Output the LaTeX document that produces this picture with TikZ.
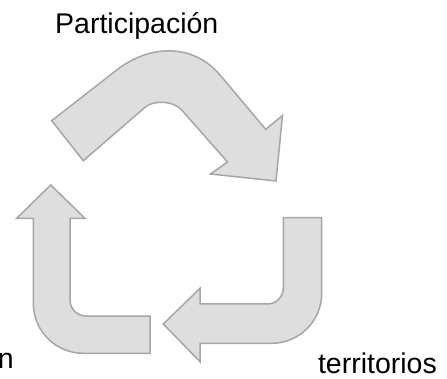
\documentclass[tikz,border=0pt]{standalone}
\usepackage{fontspec}
\setmainfont{Liberation Sans}
\definecolor{arrowfill}{HTML}{DEDEDE}
\definecolor{arrowline}{HTML}{A6A6A6}
\begin{document}
\begin{tikzpicture}[x=1pt,y=-1pt,
  cyclearrow/.style={fill=arrowfill,draw=arrowline,line width=1.5pt,line join=miter},
  lbl/.style={inner sep=0pt,font=\fontsize{28.5}{34}\selectfont,text=black}]
\useasboundingbox (0,0) rectangle (447,379);
% top curved arrow
\path[cyclearrow] (51.7,120.7) -- (116.7,70)
  .. controls (149.7,44.2) and (193,43.1) .. (220,75)
  -- (265.7,129.3) -- (282.5,115.5) -- (276,181) -- (210.5,174) -- (227.5,162)
  -- (181.7,110) .. controls (173.8,101) and (154.1,99.5) .. (145,107.3)
  -- (83.3,160.7) -- cycle;
% left upward arrow
\path[cyclearrow] (50.7,185) -- (85,218.3) -- (70,218.3) -- (70,300)
  arc[start angle=180,end angle=90,radius=16] -- (150,316) -- (150,353.3)
  -- (83.3,353.3) arc[start angle=90,end angle=180,radius=50]
  -- (33.3,218.3) -- (16.7,218.3) -- cycle;
% right leftward arrow
\path[cyclearrow] (283.3,217.7) -- (321.7,217.7) -- (321.7,293.3)
  arc[start angle=0,end angle=90,radius=50] -- (200,343.3) -- (200,361.7)
  -- (163.3,324) -- (200,288.3) -- (200,304) -- (267.3,304)
  arc[start angle=90,end angle=0,radius=16] -- cycle;
% labels
\node[lbl,anchor=base west] (part) at (55,33.3) {Participación};
\node[lbl,anchor=base west] (terr) at (317.8,373.3) {territorios};
\node[lbl,anchor=base east] (orgn) at (13.9,368.3) {n};
\end{tikzpicture}
\end{document}
